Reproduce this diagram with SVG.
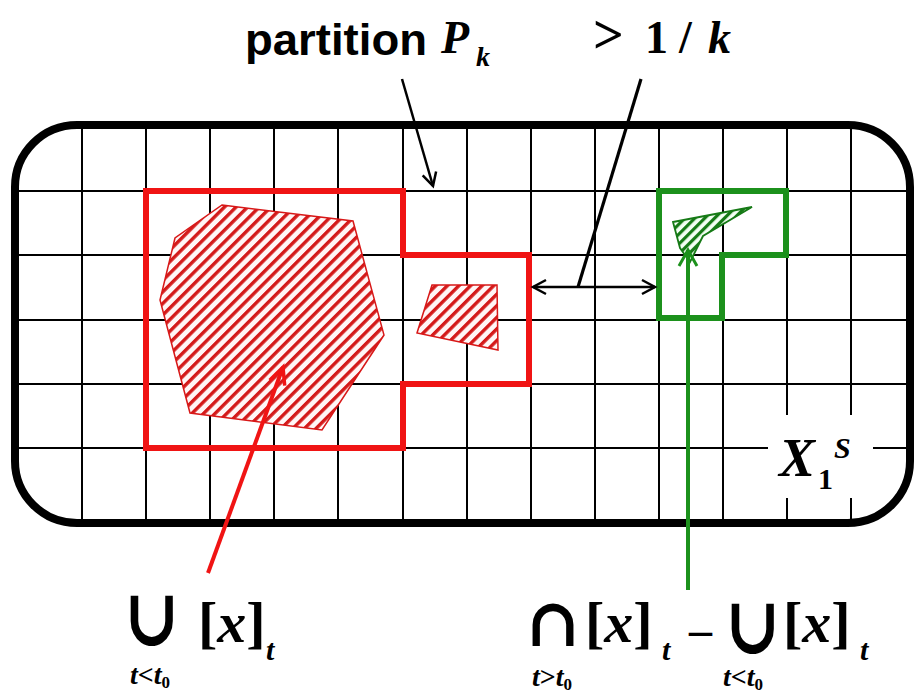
<svg xmlns="http://www.w3.org/2000/svg" width="917" height="698" viewBox="0 0 917 698">
  <style>
    .grid { stroke: #000; stroke-width: 2; }
    .frame { fill: none; stroke: #000; stroke-width: 8; }
    .redout { fill: none; stroke: #f01414; stroke-width: 6; stroke-linejoin: miter; }
    .greenout { fill: none; stroke: #1c911c; stroke-width: 6; stroke-linejoin: miter; }
    .redhatch { fill: url(#hatchRed); stroke: #d81818; stroke-width: 1.5; }
    .greenhatch { fill: url(#hatchGreen); stroke: #167a16; stroke-width: 1.8; }
    .blk { fill: none; stroke: #000; stroke-width: 2.5; }
    .sans { font-family: "Liberation Sans", Arial, sans-serif; font-weight: bold; fill: #000; }
    .serif { font-family: "Liberation Serif", "Times New Roman", serif; font-weight: bold; fill: #000; }
    .op { font-family: "DejaVu Serif", "DejaVu Sans", serif; font-weight: bold; fill: #000; }
    .it { font-style: italic; }
  </style>
  <defs>
    <pattern id="hatchRed" patternUnits="userSpaceOnUse" width="8.2" height="8.2" patternTransform="rotate(45)">
      <rect width="8.2" height="8.2" fill="#fff6f6"/>
      <rect width="3.4" height="8.2" fill="#d41a1a"/>
    </pattern>
    <pattern id="hatchGreen" patternUnits="userSpaceOnUse" width="7" height="7" patternTransform="rotate(45)">
      <rect width="7" height="7" fill="#f4fff4"/>
      <rect width="3.2" height="7" fill="#167a16"/>
    </pattern>
    <marker id="headBlack" markerUnits="userSpaceOnUse" viewBox="-16 -10 20 20" markerWidth="20" markerHeight="20" refX="0" refY="0" orient="auto-start-reverse" overflow="visible">
      <path d="M -13 -7 L 0 0 L -13 7" fill="none" stroke="#000" stroke-width="2.5"/>
    </marker>
    <marker id="headRed" markerUnits="userSpaceOnUse" viewBox="-20 -12 24 24" markerWidth="24" markerHeight="24" refX="0" refY="0" orient="auto" overflow="visible">
      <path d="M -17 -8 L 0 0 L -17 8" fill="none" stroke="#f01414" stroke-width="3.5"/>
    </marker>
    <marker id="headGreen" markerUnits="userSpaceOnUse" viewBox="-20 -12 24 24" markerWidth="24" markerHeight="24" refX="0" refY="0" orient="auto" overflow="visible">
      <path d="M -16 -9 L 0 0 L -16 9" fill="none" stroke="#1c911c" stroke-width="3"/>
    </marker>
  </defs>

  <rect width="917" height="698" fill="#fff"/>

  <g id="grid">
    <line class="grid" x1="82" y1="125" x2="82" y2="523"/>
    <line class="grid" x1="146" y1="125" x2="146" y2="523"/>
    <line class="grid" x1="210" y1="125" x2="210" y2="523"/>
    <line class="grid" x1="274" y1="125" x2="274" y2="523"/>
    <line class="grid" x1="338" y1="125" x2="338" y2="523"/>
    <line class="grid" x1="403" y1="125" x2="403" y2="523"/>
    <line class="grid" x1="467" y1="125" x2="467" y2="523"/>
    <line class="grid" x1="531" y1="125" x2="531" y2="523"/>
    <line class="grid" x1="595" y1="125" x2="595" y2="523"/>
    <line class="grid" x1="659" y1="125" x2="659" y2="523"/>
    <line class="grid" x1="723" y1="125" x2="723" y2="523"/>
    <line class="grid" x1="787" y1="125" x2="787" y2="523"/>
    <line class="grid" x1="851" y1="125" x2="851" y2="523"/>
    <line class="grid" x1="15" y1="191" x2="910" y2="191"/>
    <line class="grid" x1="15" y1="255" x2="910" y2="255"/>
    <line class="grid" x1="15" y1="320" x2="910" y2="320"/>
    <line class="grid" x1="15" y1="384" x2="910" y2="384"/>
    <line class="grid" x1="15" y1="448" x2="910" y2="448"/>
  </g>

  <g id="frame">
    <rect class="frame" x="15" y="125" width="895" height="398" rx="62" ry="62"/>
  </g>

  <g id="red-set">
    <polygon class="redhatch" points="222,205 353,221 384,335 322,430 190,413 160,300 175,238"/>
    <polygon class="redhatch" points="432,285 497,285 498,350 417,333"/>
    <polygon class="redout" points="146,191 403,191 403,255 529,255 529,384 403,384 403,448 146,448"/>
  </g>

  <g id="green-set">
    <polygon class="greenhatch" points="673,222 752,207 703,236 690,262 680,248"/>
    <polygon class="greenout" points="659,191 786,191 786,255 722,255 722,318 659,318"/>
  </g>

  <g id="label-x1s">
    <rect x="768" y="415" width="105" height="83" fill="#fff"/>
    <text class="serif it" x="779" y="476" font-size="54">X</text>
    <text class="serif" x="818" y="489" font-size="30">1</text>
    <text class="serif it" x="834" y="458" font-size="30">S</text>
  </g>

  <g id="connectors">
    <line class="blk" x1="402" y1="79" x2="433" y2="186" marker-end="url(#headBlack)"/>
    <line x1="641" y1="79" x2="578" y2="287" stroke="#000" stroke-width="3.2"/>
    <line class="blk" x1="533" y1="287" x2="655" y2="287" stroke-width="2.2" marker-start="url(#headBlack)" marker-end="url(#headBlack)"/>
    <line x1="208" y1="573" x2="283" y2="367" stroke="#f01414" stroke-width="4" marker-end="url(#headRed)"/>
    <line x1="688" y1="590" x2="688" y2="250" stroke="#1c911c" stroke-width="4" marker-end="url(#headGreen)"/>
  </g>

  <g id="label-partition">
    <text class="sans" x="245" y="55" font-size="44" textLength="182" lengthAdjust="spacingAndGlyphs">partition</text>
    <text class="serif it" x="441" y="53" font-size="46">P</text>
    <text class="serif it" x="476" y="66" font-size="28">k</text>
  </g>

  <g id="label-distance">
    <text class="serif" y="53" font-size="46"><tspan x="593" font-size="54">&gt;</tspan><tspan x="645">1</tspan><tspan x="679">/</tspan><tspan x="708" font-style="italic">k</tspan></text>
  </g>

  <g id="label-union">
    <text class="op" font-size="50" text-anchor="middle" transform="translate(152,645) scale(1.35,1.6)">∪</text>
    <text class="serif" x="198" y="642" font-size="58">[<tspan font-style="italic">x</tspan>]</text>
    <text class="serif it" x="266" y="660" font-size="30">t</text>
    <text class="serif" x="130" y="684" font-size="28"><tspan font-style="italic">t</tspan>&lt;<tspan font-style="italic">t</tspan><tspan font-size="17" dy="4">0</tspan></text>
  </g>

  <g id="label-difference">
    <text class="op" font-size="50" text-anchor="middle" transform="translate(553,646) scale(1.3,1.35)">∩</text>
    <text class="serif" x="585" y="642" font-size="58">[<tspan font-style="italic">x</tspan>]</text>
    <text class="serif it" x="662" y="660" font-size="30">t</text>
    <text class="serif" x="689" y="645" font-size="46">–</text>
    <text class="op" font-size="50" text-anchor="middle" transform="translate(753,653) scale(1.35,1.6)">∪</text>
    <text class="serif" x="783" y="642" font-size="58">[<tspan font-style="italic">x</tspan>]</text>
    <text class="serif it" x="860" y="660" font-size="30">t</text>
    <text class="serif" x="532" y="686" font-size="28"><tspan font-style="italic">t</tspan>&gt;<tspan font-style="italic">t</tspan><tspan font-size="17" dy="4">0</tspan></text>
    <text class="serif" x="723" y="686" font-size="28"><tspan font-style="italic">t</tspan>&lt;<tspan font-style="italic">t</tspan><tspan font-size="17" dy="4">0</tspan></text>
  </g>
</svg>
